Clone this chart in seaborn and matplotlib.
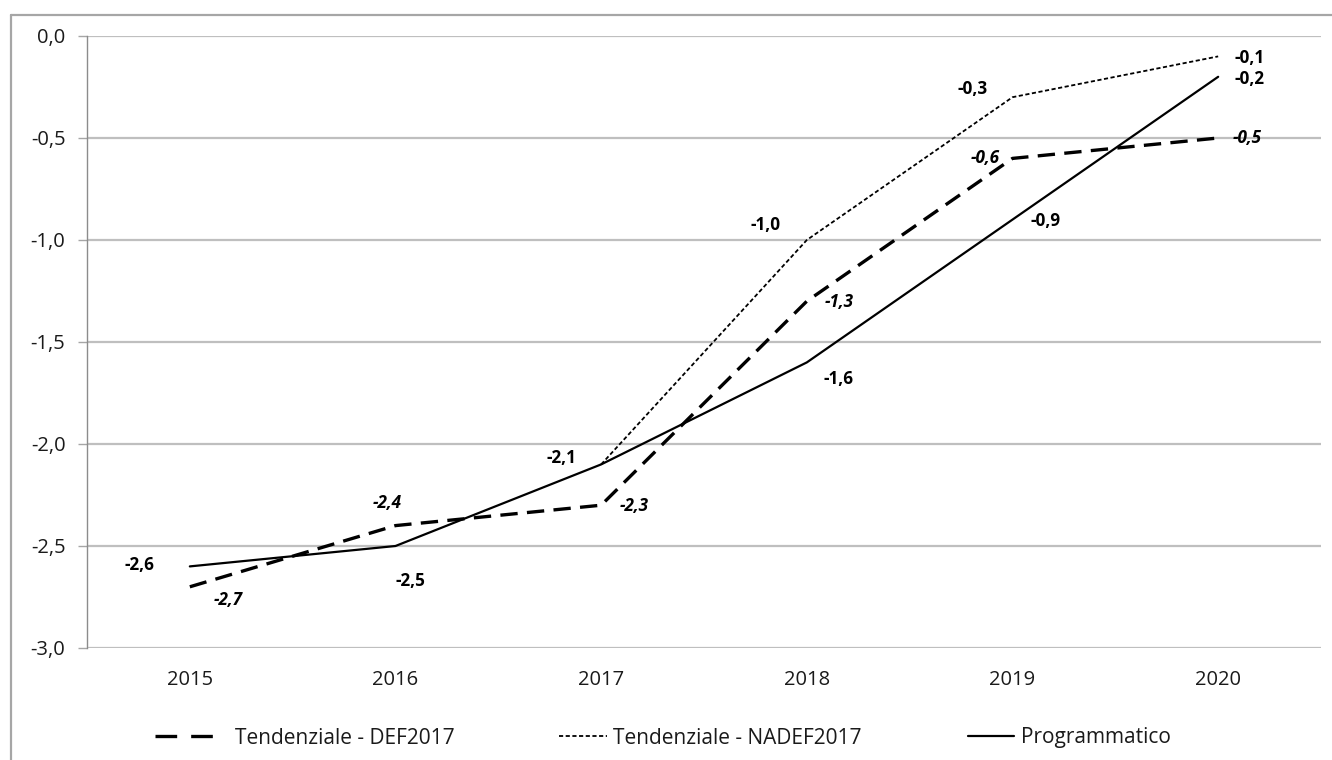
import numpy as np
import pandas as pd
import matplotlib
matplotlib.use("Agg")
import matplotlib.pyplot as plt
from matplotlib.lines import Line2D
import seaborn as sns

# ---------------- data ----------------
years = ["2015", "2016", "2017", "2018", "2019", "2020"]
def_2017 = [-2.7, -2.4, -2.3, -1.3, -0.6, -0.5]
nadef_2017 = [np.nan, np.nan, -2.1, -1.0, -0.3, -0.1]
programmatico = [-2.6, -2.5, -2.1, -1.6, -0.9, -0.2]
series_names = ["Tendenziale - DEF2017", "Tendenziale - NADEF2017", "Programmatico"]
y_ticks = [0.0, -0.5, -1.0, -1.5, -2.0, -2.5, -3.0]

# ---------------- build long table ----------------
rows = []
for name, vals in zip(series_names, [def_2017, nadef_2017, programmatico]):
    for i, v in enumerate(vals):
        if not np.isnan(v):
            rows.append({"x": i, "value": v, "series": name})
df = pd.DataFrame(rows)

sns.set_theme(style="white")
plt.rcParams["font.family"] = ["Open Sans", "DejaVu Sans"]

W, H = 1332, 760
fig = plt.figure(figsize=(W / 100, H / 100), dpi=100)
ax = fig.add_axes([87 / W, 1 - 648 / H, (1321 - 87) / W, (648 - 36) / H])

styles = {
    series_names[0]: dict(lw=2.4, dashes=(5.2, 2.8)),
    series_names[1]: dict(lw=1.3, dashes=(2.3, 1.4)),
    series_names[2]: dict(lw=1.6, dashes=""),
}

sns.lineplot(
    data=df, x="x", y="value", hue="series", style="series", size="series",
    palette={n: "black" for n in series_names},
    dashes={n: styles[n]["dashes"] for n in series_names},
    sizes={n: styles[n]["lw"] for n in series_names},
    hue_order=series_names, style_order=series_names, size_order=series_names,
    ax=ax, legend=False, sort=False, zorder=3,
)

# axes styling
ax.set_xlim(-0.5, len(years) - 0.5)
ax.set_ylim(-3.0, 0.0)
ax.set_yticks(y_ticks)
ax.set_yticklabels([f"{t:.1f}".replace(".", ",") for t in y_ticks])
ax.set_xticks(range(len(years)))
ax.set_xticklabels(years)
ax.set_xlabel("")
ax.set_ylabel("")
for t in y_ticks:
    ax.axhline(t, color="#BFBFBF", lw=1.6, zorder=1)
for s in ["top", "right", "bottom"]:
    ax.spines[s].set_visible(False)
ax.spines["left"].set_color("#8C8C8C")
ax.spines["left"].set_linewidth(1.0)
ax.spines["left"].set_zorder(2)
ax.tick_params(axis="y", which="major", left=True, length=6.5, width=1.0,
               color="#A6A6A6", pad=9, labelsize=14.5, labelcolor="#1a1a1a")
ax.tick_params(axis="x", length=0, pad=16, labelsize=14.5, labelcolor="#1a1a1a")
ax.grid(False)

# data labels (offsets in pixels)
label_offsets = {
    series_names[0]: [(38, -13), (-8, 23), (33, -1), (32, -1), (-27, 0), (29, 0)],
    series_names[1]: [None, None, (-40, 6), (-41, 15), (-40, 8), (31, -2)],
    series_names[2]: [(-50, 1), (15, -35), None, (32, -17), (33, -1), (31, -2)],
}
label_italic = {series_names[0]: "italic", series_names[1]: "normal", series_names[2]: "normal"}
for name, vals in zip(series_names, [def_2017, nadef_2017, programmatico]):
    for i, v in enumerate(vals):
        off = label_offsets[name][i]
        if off is None or np.isnan(v):
            continue
        ax.annotate(f"{v:.1f}".replace(".", ","), (i, v), xytext=off,
                    textcoords="offset pixels", ha="center", va="center",
                    fontsize=12.3, fontweight="bold", fontstyle=label_italic[name],
                    color="black", zorder=5)

# legend: one entry per column, placed at the reference handle positions
legend_x = [155, 559, 968]
legend_hl = [2.9, 2.3, 2.2]
legend_pad = [0.95, 0.3, 0.35]
legend_dashes = [(6.5, 4.2), styles[series_names[1]]["dashes"], ""]
for n, x0, hl, pad, dsh in zip(series_names, legend_x, legend_hl, legend_pad, legend_dashes):
    h = Line2D([], [], color="black", lw=styles[n]["lw"],
               linestyle="--" if dsh else "-")
    if dsh:
        h.set_dashes(dsh)
    leg = fig.legend([h], [n], loc="center left", bbox_to_anchor=(x0 / W, 1 - 738 / H),
                     frameon=False, fontsize=15, handlelength=hl, handletextpad=pad,
                     borderpad=0, borderaxespad=0)
    for t in leg.get_texts():
        t.set_color("#1a1a1a")

# outer chart border (left and top edges visible)
fig.add_artist(Line2D([11 / W, 11 / W], [0, 1 - 15 / H], color="#A6A6A6", lw=1.6,
                      transform=fig.transFigure))
fig.add_artist(Line2D([11 / W, 1], [1 - 15 / H, 1 - 15 / H], color="#A6A6A6", lw=1.6,
                      transform=fig.transFigure))

fig.savefig("out.png", dpi=100, facecolor="white")
